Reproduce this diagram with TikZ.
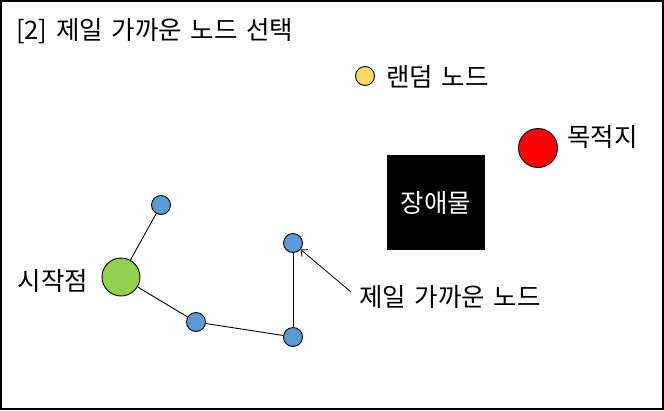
\documentclass[tikz,border=0pt]{standalone}
\usepackage{fontspec}
\setmainfont{Noto Sans CJK KR}
\usetikzlibrary{arrows.meta}
\definecolor{bluenode}{HTML}{5B9BD5}
\definecolor{greennode}{HTML}{92D050}
\definecolor{yellownode}{HTML}{FFD966}
\newcommand{\lblfont}{\fontsize{25.5}{30}\selectfont\spaceskip=0.34em\relax}
\tikzset{
  lbl/.style={font=\lblfont, inner sep=0pt},
  bnode/.style={circle, draw=black, line width=0.9pt, fill=bluenode, minimum size=19pt, inner sep=0pt},
  edge/.style={line width=0.9pt},
}
\begin{document}
\begin{tikzpicture}[x=1pt,y=-1pt]
\useasboundingbox (0,0) rectangle (664,410);
\draw[line width=1.6pt] (1,1) rectangle (663,409);
\node[lbl, anchor=west] (title) at (16,31) {[2] 제일 가까운 노드 선택};
% random node
\node[circle, draw=black, line width=0.9pt, fill=yellownode, minimum size=19pt, inner sep=0pt] (rand) at (365,76) {};
\node[lbl, anchor=west] (randlbl) at (386,77) {랜덤 노드};
% goal
\node[circle, draw=black, line width=0.9pt, fill=red, minimum size=39pt, inner sep=0pt] (goal) at (538,148) {};
\node[lbl, anchor=west] (goallbl) at (567,137) {목적지};
% obstacle
\node[rectangle, fill=black, minimum width=98pt, minimum height=95pt, inner sep=0pt, text=white, font=\lblfont] (obs) at (436,202.5) {장애물};
% start
\node[circle, draw=black, line width=0.9pt, fill=greennode, minimum size=38pt, inner sep=0pt] (start) at (121,277) {};
\node[lbl, anchor=east] (startlbl) at (88.5,281) {시작점};
% tree nodes
\node[bnode] (n1) at (161,205) {};
\node[bnode] (n2) at (196,322) {};
\node[bnode] (n3) at (293,337) {};
\node[bnode] (n4) at (293,243) {};
\draw[edge] (start) -- (n1);
\draw[edge] (start) -- (n2);
\draw[edge] (n2) -- (n3);
\draw[edge] (n3) -- (n4);
% nearest label
\node[lbl, anchor=west] (nearlbl) at (359,297) {제일 가까운 노드};
\coordinate (arrstart) at (351,292);
\draw[line width=0.8pt, -{Straight Barb[length=5pt,width=9pt]}] (arrstart) -- (n4);
\end{tikzpicture}
\end{document}
